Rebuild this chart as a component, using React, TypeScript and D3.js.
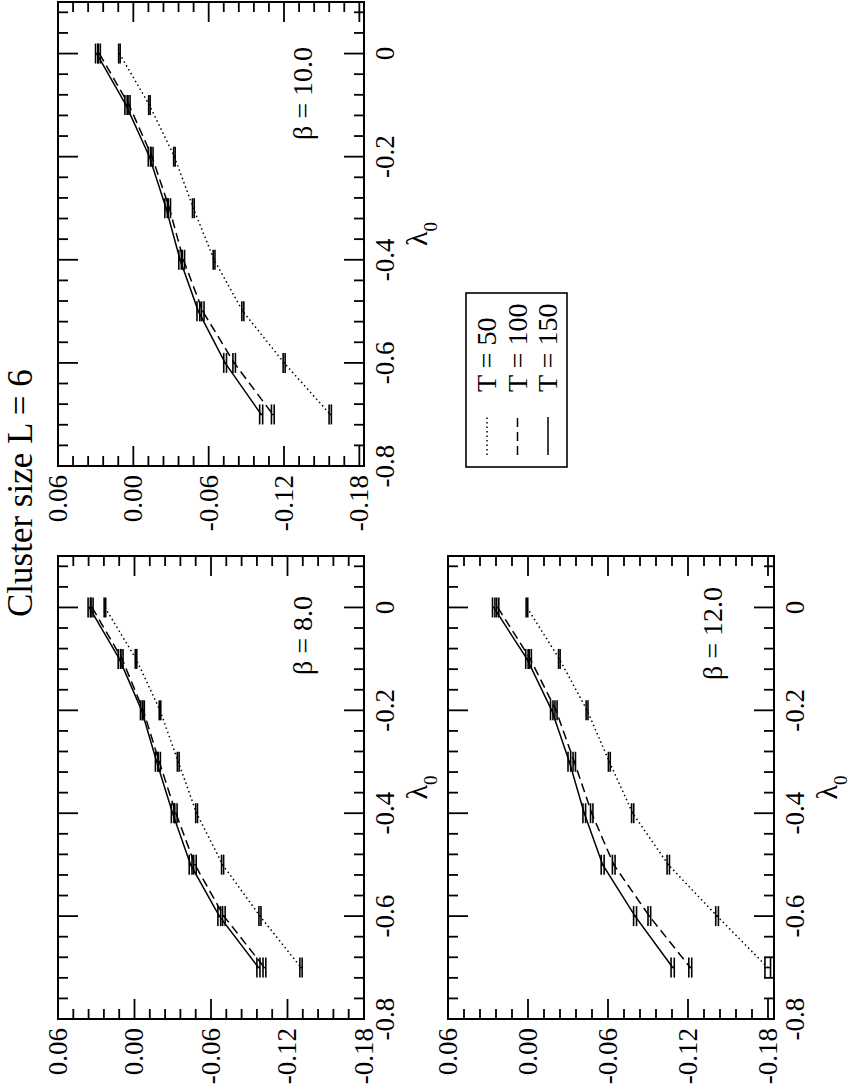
import React, { useEffect, useRef } from "react";
import * as d3 from "d3";

// lambda_0 values of every point
const lambda0 = [0, -0.1, -0.2, -0.3, -0.4, -0.5, -0.6, -0.7];

// beta = 8.0
const b8T50 = [0.0232, -0.0012, -0.02, -0.0343, -0.0487, -0.0691, -0.0984, -0.1306];
const b8T100 = [0.0333, 0.0098, -0.0069, -0.0194, -0.0325, -0.0474, -0.0701, -0.1019];
const b8T150 = [0.0355, 0.0119, -0.0056, -0.0174, -0.0299, -0.044, -0.0665, -0.0972];

// beta = 10.0
const b10T50 = [0.0111, -0.0128, -0.0327, -0.0478, -0.0643, -0.0872, -0.1201, -0.1568];
const b10T100 = [0.0271, 0.0034, -0.0149, -0.0287, -0.0399, -0.0553, -0.0803, -0.1111];
const b10T150 = [0.0292, 0.0058, -0.0128, -0.0261, -0.0372, -0.0518, -0.0731, -0.1018];

// beta = 12.0
const b12T50 = [0.0008, -0.0235, -0.0443, -0.061, -0.0785, -0.1052, -0.1418, -0.1798];
const b12T100 = [0.0227, -0.0017, -0.021, -0.0347, -0.0478, -0.0643, -0.091, -0.1217];
const b12T150 = [0.0257, 0.0008, -0.0178, -0.031, -0.0422, -0.056, -0.0803, -0.1085];

// error bars (tiny)
const errT50 = [0.0006, 0.0006, 0.0006, 0.0007, 0.0007, 0.0008, 0.0008, 0.0009];
const errT100 = [0.0008, 0.0008, 0.0008, 0.0009, 0.0009, 0.001, 0.001, 0.0011];
const errT150 = [0.0009, 0.0009, 0.0009, 0.001, 0.001, 0.0011, 0.0011, 0.0012];
const errB12T50 = [0.0006, 0.0006, 0.0007, 0.0007, 0.0008, 0.0009, 0.001, 0.0021];

const seriesNames = ["T = 50", "T = 100", "T = 150"];
const xTicks = [-0.8, -0.6, -0.4, -0.2, 0];
const xTickLabels = ["-0.8", "-0.6", "-0.4", "-0.2", "0"];
const yTicks = [0.06, 0, -0.06, -0.12, -0.18];
const yTickLabels = ["0.06", "0.00", "-0.06", "-0.12", "-0.18"];

const W = 1090; // landscape page, drawn rotated
const FONT = "'Liberation Serif', 'Times New Roman', serif";
const dashes = ["1.5 3", "9 5", null];

const panels = [
  { title: "β = 8.0", values: [b8T50, b8T100, b8T150], errs: [errT50, errT100, errT150],
    u0: 71, u1: 534, v0: 58, v1: 364, yMin: -0.18, labelU: 415 },
  { title: "β = 10.0", values: [b10T50, b10T100, b10T150], errs: [errT50, errT100, errT150],
    u0: 624, u1: 1088, v0: 58, v1: 364, yMin: -0.1837, labelU: 950 },
  { title: "β = 12.0", values: [b12T50, b12T100, b12T150], errs: [errB12T50, errT100, errT150],
    u0: 71, u1: 534, v0: 448, v1: 774, yMin: -0.1845, labelU: 410 },
];

const App = () => {
  const svgRef = useRef<SVGSVGElement | null>(null);

  useEffect(() => {
    if (!svgRef.current) return;
    const svg = d3.select(svgRef.current);
    svg.selectAll("*").remove();

    const g = svg.append("g").attr("transform", `translate(0,${W}) rotate(-90)`);

    // title
    g.append("text")
      .attr("x", 473).attr("y", 32)
      .style("font-family", FONT).style("font-size", "35px")
      .text("Cluster size L = 6");

    panels.forEach(p => {
      const x = d3.scaleLinear().domain([-0.8, 0.1]).range([p.u0, p.u1]);
      const y = d3.scaleLinear().domain([p.yMin, 0.06]).range([p.v1, p.v0]);
      const pg = g.append("g");

      const xMinor = d3.range(0, 23).map(i => -0.8 + i * 0.04).filter(v => v <= 0.1001);
      const yMinor = d3.range(0, 21).map(i => 0.06 - i * 0.012).filter(v => v >= p.yMin - 1e-6);

      const tick = (x1: number, y1: number, x2: number, y2: number) =>
        pg.append("line").attr("x1", x1).attr("y1", y1).attr("x2", x2).attr("y2", y2)
          .attr("stroke", "#000").attr("stroke-width", 1.8);

      xMinor.forEach(t => {
        const major = xTicks.some(m => Math.abs(m - t) < 1e-6);
        const len = major ? 20 : 10;
        tick(x(t), p.v0, x(t), p.v0 + len);
        tick(x(t), p.v1, x(t), p.v1 - len);
      });
      yMinor.forEach(t => {
        const major = yTicks.some(m => Math.abs(m - t) < 1e-6);
        const len = major ? 20 : 10;
        tick(p.u0, y(t), p.u0 + len, y(t));
        tick(p.u1, y(t), p.u1 - len, y(t));
      });

      pg.append("rect")
        .attr("x", p.u0).attr("y", p.v0)
        .attr("width", p.u1 - p.u0).attr("height", p.v1 - p.v0)
        .attr("fill", "none").attr("stroke", "#000").attr("stroke-width", 2);

      // tick labels
      xTicks.forEach((t, i) => {
        pg.append("text")
          .attr("x", x(t)).attr("y", p.v1 + 30)
          .attr("text-anchor", "middle")
          .style("font-family", FONT).style("font-size", "27px")
          .text(xTickLabels[i]);
      });
      yTicks.forEach((t, i) => {
        pg.append("text")
          .attr("x", p.u0 - 9).attr("y", y(t))
          .attr("dy", "0.33em")
          .attr("text-anchor", "end")
          .style("font-family", FONT).style("font-size", "27px")
          .text(yTickLabels[i]);
      });

      // axis label lambda_0
      const lab = pg.append("text")
        .attr("x", (p.u0 + p.u1) / 2).attr("y", p.v1 + 63)
        .attr("text-anchor", "middle")
        .style("font-family", FONT).style("font-size", "30px");
      lab.append("tspan").text("λ");
      lab.append("tspan").attr("dy", 10).style("font-size", "19px").text("0");

      // beta label
      pg.append("text")
        .attr("x", p.labelU).attr("y", p.v1 - 52)
        .style("font-family", FONT).style("font-size", "28px")
        .text(p.title);

      // series
      p.values.forEach((vals, si) => {
        const pts = lambda0.map((l, i) => [l, vals[i], p.errs[si][i]] as [number, number, number]);
        const line = d3.line<[number, number, number]>().x(d => x(d[0])).y(d => y(d[1]));
        const path = pg.append("path")
          .attr("d", line(pts))
          .attr("fill", "none").attr("stroke", "#000").attr("stroke-width", 1.5);
        if (dashes[si]) path.attr("stroke-dasharray", dashes[si] as string);

        pts.forEach(d => {
          const cx = x(d[0]);
          const ya = y(d[1] + d[2]);
          const yb = y(d[1] - d[2]);
          pg.append("line").attr("x1", cx).attr("x2", cx).attr("y1", ya).attr("y2", yb)
            .attr("stroke", "#000").attr("stroke-width", 1.5);
          [ya, yb].forEach(yy => {
            pg.append("line").attr("x1", cx - 10).attr("x2", cx + 10).attr("y1", yy).attr("y2", yy)
              .attr("stroke", "#000").attr("stroke-width", 1.6);
          });
        });
      });
    });

    // legend
    const lg = g.append("g");
    lg.append("rect")
      .attr("x", 623).attr("y", 466).attr("width", 174).attr("height", 101)
      .attr("fill", "none").attr("stroke", "#000").attr("stroke-width", 1.6);
    seriesNames.forEach((name, i) => {
      const v = 487 + i * 30.5;
      const l = lg.append("line")
        .attr("x1", 635).attr("x2", 673).attr("y1", v).attr("y2", v)
        .attr("stroke", "#000").attr("stroke-width", 1.5);
      if (dashes[i]) l.attr("stroke-dasharray", dashes[i] as string);
      lg.append("text")
        .attr("x", 698).attr("y", v + 9)
        .style("font-family", FONT).style("font-size", "28px")
        .text(name);
    });
  }, []);

  return (
    <svg
      ref={svgRef}
      width={850}
      height={1090}
      style={{ position: "absolute", left: 0, top: 0, background: "#fff" }}
    />
  );
};

export default App;
